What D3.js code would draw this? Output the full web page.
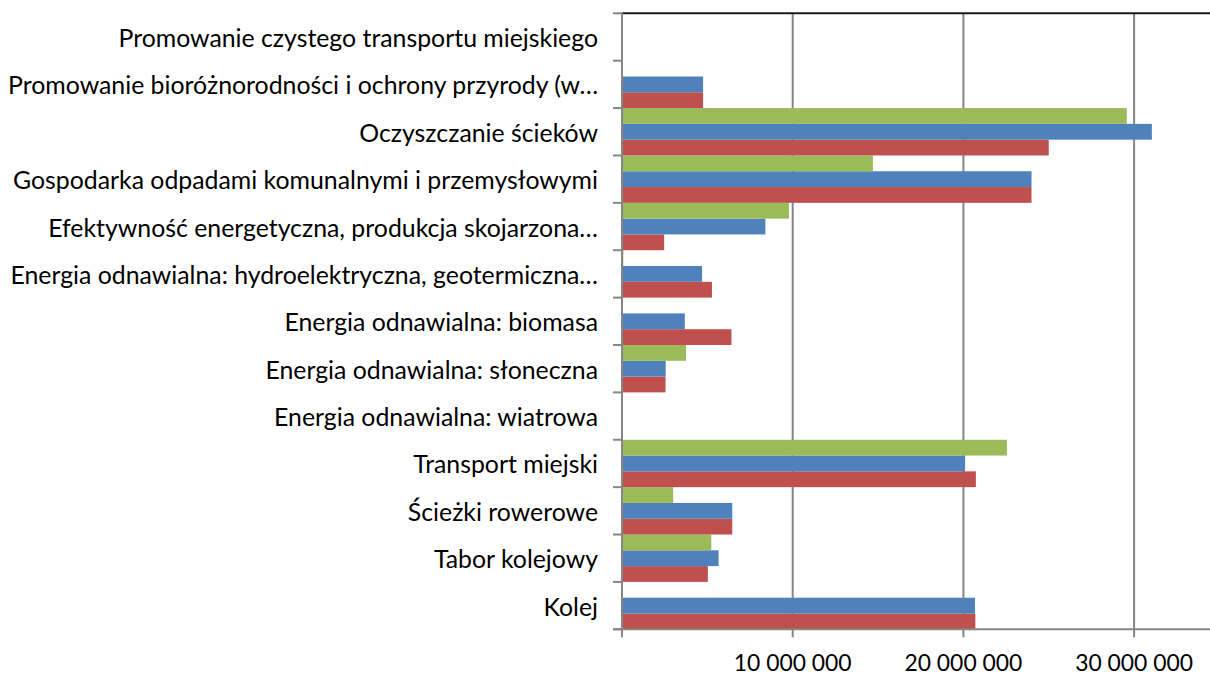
<!DOCTYPE html>
<html><head><meta charset="utf-8">
<script src="https://cdn.jsdelivr.net/npm/d3@7"></script>
<style>body{margin:0;background:#fff}svg{display:block}</style>
</head><body>
<svg id="c" width="1210" height="675"></svg>
<script>
// categories listed bottom -> top (Excel order)
const categories = [
  "Kolej",
  "Tabor kolejowy",
  "Ścieżki rowerowe",
  "Transport miejski",
  "Energia odnawialna: wiatrowa",
  "Energia odnawialna: słoneczna",
  "Energia odnawialna: biomasa",
  "Energia odnawialna: hydroelektryczna, geotermiczna…",
  "Efektywność energetyczna, produkcja skojarzona…",
  "Gospodarka odpadami komunalnymi i przemysłowymi",
  "Oczyszczanie ścieków",
  "Promowanie bioróżnorodności i ochrony przyrody (w…",
  "Promowanie czystego transportu miejskiego"
];
const seriesRed   = [20700000, 5030000, 6460000, 20730000, 0, 2550000, 6410000, 5270000, 2470000, 23990000, 25000000, 4750000, 0];
const seriesBlue  = [20680000, 5660000, 6460000, 20100000, 0, 2560000, 3680000, 4690000, 8400000, 23990000, 31040000, 4750000, 0];
const seriesGreen = [0, 5230000, 3000000, 22550000, 0, 3750000, 0, 80000, 9780000, 14700000, 29570000, 0, 0];
const xTicks = [10000000, 20000000, 30000000];
const xTickLabels = ["10 000 000", "20 000 000", "30 000 000"];

const series = [
  {name: "red", values: seriesRed, color: "#C0504D"},
  {name: "blue", values: seriesBlue, color: "#4F81BD"},
  {name: "green", values: seriesGreen, color: "#9BBB59"}
];

const svg = d3.select("#c");
const mLeft = 622, mTop = 13.3, mBottom = 629.3;
const pxPer10M = 170.7;
const x = d3.scaleLinear().domain([0, 10000000]).range([mLeft, mLeft + pxPer10M]);
const y = d3.scaleBand().domain(categories).range([mBottom, mTop]).paddingInner(0).paddingOuter(0);
const sub = d3.scaleBand().domain(series.map(s => s.name)).range([y.bandwidth(), 0]).padding(0);

// gridlines
svg.append("g").selectAll("line").data(xTicks).join("line")
  .attr("x1", d => x(d)).attr("x2", d => x(d))
  .attr("y1", mTop).attr("y2", mBottom + 8)
  .attr("stroke", "#868686").attr("stroke-width", 2);

// bars
const groups = svg.append("g").selectAll("g").data(categories).join("g")
  .attr("transform", d => `translate(0,${y(d)})`);
groups.selectAll("rect").data((c, i) => series.map(s => ({s, v: s.values[i]})))
  .join("rect")
  .attr("x", x(0))
  .attr("y", d => sub(d.s.name))
  .attr("height", sub.bandwidth())
  .attr("width", d => Math.max(0, x(d.v) - x(0)))
  .attr("fill", d => d.s.color);

// top dark line
svg.append("line").attr("x1", mLeft).attr("x2", 1210).attr("y1", mTop).attr("y2", mTop)
  .attr("stroke", "#1a1a1a").attr("stroke-width", 2);

// y axis
const yAxisG = svg.append("g");
yAxisG.append("line").attr("x1", mLeft).attr("x2", mLeft).attr("y1", mTop - 1).attr("y2", mBottom + 8)
  .attr("stroke", "#868686").attr("stroke-width", 2);
const yTickPos = categories.map(c => y(c)).concat([mBottom]);
yAxisG.selectAll("line.t").data(yTickPos).join("line").attr("class", "t")
  .attr("x1", mLeft - 9).attr("x2", mLeft).attr("y1", d => d).attr("y2", d => d)
  .attr("stroke", "#868686").attr("stroke-width", 2);

// x axis
svg.append("line").attr("x1", mLeft - 9).attr("x2", 1210).attr("y1", mBottom).attr("y2", mBottom)
  .attr("stroke", "#868686").attr("stroke-width", 2);

const fontFam = "Lato, 'Open Sans', 'Noto Sans', sans-serif";

// category labels
const labels = svg.append("g").selectAll("text").data(categories).join("text")
  .attr("x", 598)
  .attr("y", d => y(d) + y.bandwidth() / 2)
  .attr("text-anchor", "end")
  .attr("dominant-baseline", "central")
  .attr("font-family", fontFam)
  .attr("fill", "#000")
  .text(d => d);

// fit font so widest label spans ~590px like the reference
labels.attr("font-size", 100);
const maxW = d3.max(labels.nodes(), n => n.getComputedTextLength());
const fs = Math.min(26, 100 * 590 / maxW);
labels.attr("font-size", fs);

// x tick labels
const tl = svg.append("g").selectAll("text").data(xTicks).join("text")
  .attr("x", d => x(d))
  .attr("y", 662)
  .attr("text-anchor", "middle")
  .attr("dominant-baseline", "central")
  .attr("font-family", fontFam)
  .attr("fill", "#000")
  .text((d, i) => xTickLabels[i]);
tl.attr("font-size", 100);
const tw = d3.max(tl.nodes(), n => n.getComputedTextLength());
tl.attr("font-size", Math.min(26, 100 * 118 / tw));
</script>
</body></html>
